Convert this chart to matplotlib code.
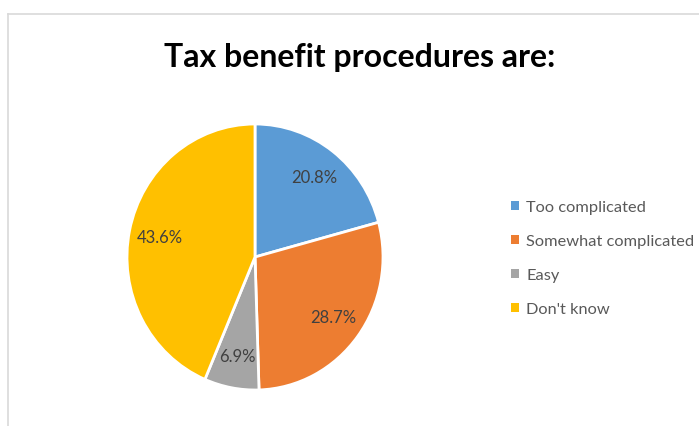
import matplotlib.pyplot as plt
from matplotlib.patches import Patch
from matplotlib.lines import Line2D

categories = ["Too complicated", "Somewhat complicated", "Easy", "Don't know"]
shares = [20.8, 28.7, 6.9, 43.6]
colors = ["#5b9bd5", "#ed7d31", "#a5a5a5", "#ffc000"]

plt.rcParams['font.family'] = ['Lato', 'DejaVu Sans']

W, H = 699, 427
fig = plt.figure(figsize=(W / 100, H / 100), dpi=100)

# thin grey frame along the top and left
fig.add_artist(Line2D([8 / W, 1], [1 - 15 / H, 1 - 15 / H], color="#d9d9d9", lw=1.2))
fig.add_artist(Line2D([8 / W, 8 / W], [0, 1 - 15 / H], color="#d9d9d9", lw=1.2))

fig.text(360 / W, 1 - 57 / H, "Tax benefit procedures are:", ha="center", va="center",
         fontsize=23, fontweight="bold", color="black")

# pie is a touch taller than wide
cx, cy, rx, ry = 255, 258, 128, 133
ax = fig.add_axes([(cx - rx) / W, (H - cy - ry) / H, 2 * rx / W, 2 * ry / H])
wedges, texts, autotexts = ax.pie(shares, colors=colors, startangle=90, counterclock=False,
                                  autopct="%.1f%%", pctdistance=0.76,
                                  wedgeprops=dict(edgecolor="white", linewidth=2),
                                  textprops=dict(color="#404040", fontsize=12))
ax.set_xlim(-1, 1)
ax.set_ylim(-1, 1)
ax.set_aspect("auto")
ax.axis("off")

handles = [Patch(facecolor=c, edgecolor="none") for c in colors]
leg = fig.legend(handles, categories, loc="center left", bbox_to_anchor=(496 / W, 1 - 259 / H),
                 frameon=False, fontsize=11.8, labelspacing=1.22, handlelength=0.5,
                 handleheight=0.5, handletextpad=0.45)
for t in leg.get_texts():
    t.set_color("#595959")

fig.savefig("out.png", dpi=100)
